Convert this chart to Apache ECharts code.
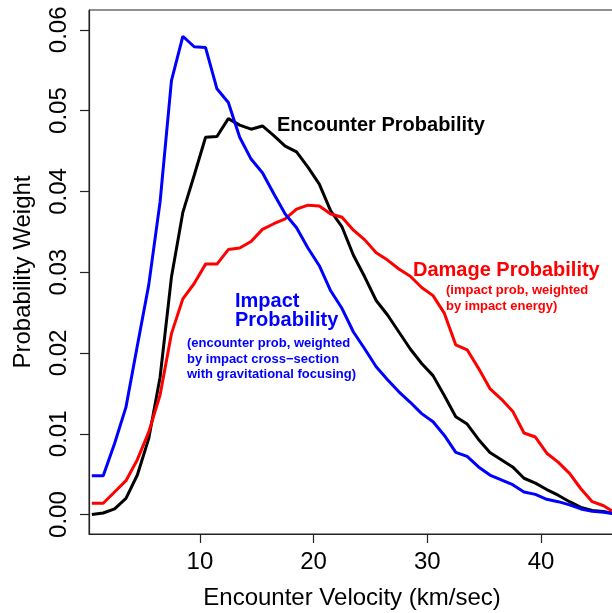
<!DOCTYPE html>
<html>
<head>
<meta charset="utf-8">
<script src="https://cdn.jsdelivr.net/npm/echarts@6/dist/echarts.min.js"></script>
<style>
html,body{margin:0;padding:0;background:#fff;}
#chart{width:612px;height:613px;}
</style>
</head>
<body>
<div id="chart"></div>
<script>
const velocity = [0.5,1.5,2.5,3.5,4.5,5.5,6.5,7.5,8.5,9.5,10.5,11.5,12.5,13.5,14.5,15.5,16.5,17.5,18.5,19.5,20.5,21.5,22.5,23.5,24.5,25.5,26.5,27.5,28.5,29.5,30.5,31.5,32.5,33.5,34.5,35.5,36.5,37.5,38.5,39.5,40.5,41.5,42.5,43.5,44.5,45.5,46.5];
const encounterProb = [0.0000,0.0002,0.0007,0.0020,0.0049,0.0094,0.0170,0.0294,0.0374,0.0420,0.0467,0.0468,0.0490,0.0482,0.0477,0.0481,0.0469,0.0456,0.0449,0.0430,0.0409,0.0376,0.0356,0.0321,0.0294,0.0265,0.0247,0.0226,0.0205,0.0187,0.0172,0.0147,0.0121,0.0112,0.0093,0.0077,0.0068,0.0059,0.0045,0.0039,0.0031,0.0024,0.0016,0.0009,0.0005,0.0004,0.0001];
const impactProb = [0.0048,0.0048,0.0088,0.0133,0.0209,0.0284,0.0387,0.0537,0.0592,0.0579,0.0578,0.0527,0.0510,0.0467,0.0440,0.0423,0.0397,0.0372,0.0355,0.0330,0.0308,0.0277,0.0255,0.0226,0.0205,0.0183,0.0167,0.0152,0.0139,0.0125,0.0115,0.0098,0.0077,0.0072,0.0059,0.0049,0.0043,0.0037,0.0028,0.0025,0.0019,0.0016,0.0012,0.0007,0.0004,0.0003,0.0001];
const damageProb = [0.0014,0.0014,0.0028,0.0042,0.0068,0.0102,0.0148,0.0224,0.0267,0.0286,0.0310,0.0310,0.0328,0.0330,0.0338,0.0353,0.0360,0.0366,0.0378,0.0383,0.0382,0.0372,0.0368,0.0352,0.0340,0.0324,0.0315,0.0304,0.0295,0.0281,0.0271,0.0249,0.0210,0.0204,0.0181,0.0156,0.0143,0.0128,0.0101,0.0096,0.0076,0.0065,0.0051,0.0032,0.0016,0.0011,0.0002];
const xTicks = [10,20,30,40];
const yTicks = [0,0.01,0.02,0.03,0.04,0.05,0.06];

const FONT = 'Liberation Sans, Arial, Helvetica, sans-serif';
const pair = (ys) => velocity.map((v, i) => [v, ys[i]]);

const chart = echarts.init(document.getElementById('chart'), null, {renderer: 'canvas'});
chart.setOption({
  animation: false,
  backgroundColor: '#ffffff',
  grid: {left: 89, top: 10, right: -3, bottom: 79, show: true, borderColor: '#222', borderWidth: 1,
    containLabel: false, outerBoundsMode: 'none'},
  xAxis: {
    type: 'value', min: 0.25, max: 46.5,
    name: 'Encounter Velocity (km/sec)', nameLocation: 'middle', nameGap: 52,
    nameTextStyle: {fontFamily: FONT, fontSize: 24, color: '#000'},
    axisLine: {onZero: false, lineStyle: {color: '#222', width: 1.2}},
    axisTick: {length: 9, customValues: xTicks, lineStyle: {color: '#222', width: 1.2}},
    axisLabel: {customValues: xTicks, fontFamily: FONT, fontSize: 24, color: '#000', margin: 16},
    splitLine: {show: false}
  },
  yAxis: {
    type: 'value', min: -0.0024, max: 0.06245,
    name: 'Probability Weight', nameLocation: 'middle', nameGap: 54, nameRotate: 90,
    nameTextStyle: {fontFamily: FONT, fontSize: 24, color: '#000'},
    axisLine: {lineStyle: {color: '#222', width: 1.2}},
    axisTick: {length: 9, customValues: yTicks, lineStyle: {color: '#222', width: 1.2}},
    axisLabel: {customValues: yTicks, rotate: 90, fontFamily: FONT, fontSize: 24, color: '#000', margin: 18,
      formatter: (v) => v.toFixed(2)},
    splitLine: {show: false}
  },
  series: [
    {name: 'Encounter Probability', type: 'line', data: pair(encounterProb), showSymbol: false, lineStyle: {color: '#000000', width: 3}, z: 3},
    {name: 'Damage Probability', type: 'line', data: pair(damageProb), showSymbol: false, lineStyle: {color: '#ff0000', width: 3}, z: 3},
    {name: 'Impact Probability', type: 'line', data: pair(impactProb), showSymbol: false, lineStyle: {color: '#0000ff', width: 3}, z: 3}
  ],
  graphic: [
    {type: 'text', left: 277, top: 115, style: {text: 'Encounter Probability', fill: '#000', font: 'bold 20px ' + FONT}},
    {type: 'text', left: 413, top: 260, style: {text: 'Damage Probability', fill: '#ff0000', font: 'bold 20px ' + FONT}},
    {type: 'text', left: 446, top: 283, style: {text: '(impact prob, weighted\nby impact energy)', fill: '#ff0000', font: 'bold 13px ' + FONT, lineHeight: 15.5}},
    {type: 'text', left: 235, top: 291, style: {text: 'Impact\nProbability', fill: '#0000ff', font: 'bold 20px ' + FONT, lineHeight: 19.5}},
    {type: 'text', left: 187, top: 336, style: {text: '(encounter prob, weighted\nby impact cross\u2212section\nwith gravitational focusing)', fill: '#0000ff', font: 'bold 13px ' + FONT, lineHeight: 15.3}}
  ]
});
</script>
</body>
</html>
